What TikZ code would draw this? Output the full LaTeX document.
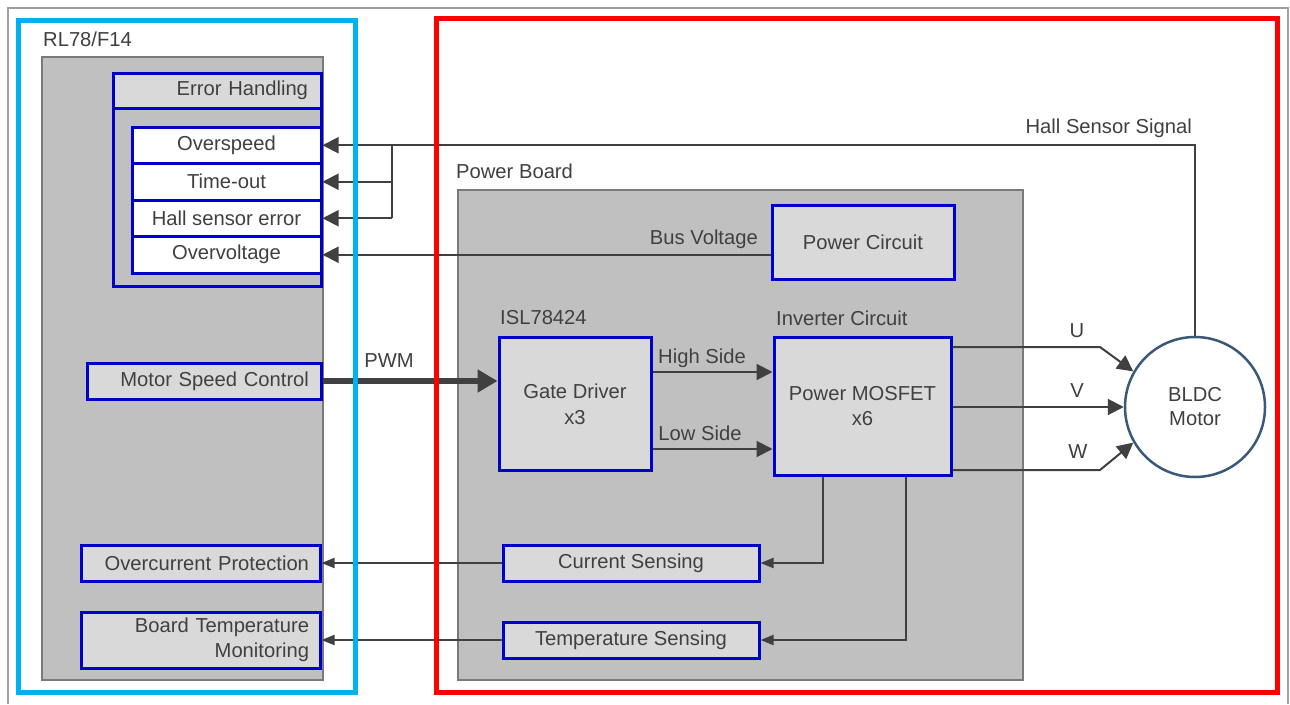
\documentclass[tikz,border=0pt]{standalone}
\usepackage{fontspec}
\setmainfont{Liberation Sans}
\usetikzlibrary{arrows.meta,calc}
\definecolor{panel}{HTML}{C0C0C0}
\definecolor{panelline}{HTML}{7A7A7A}
\definecolor{boxfill}{HTML}{D9D9D9}
\definecolor{boxblue}{HTML}{0000CC}
\definecolor{txt}{HTML}{404040}
\definecolor{wirec}{HTML}{404040}
\definecolor{cyanframe}{HTML}{00B0F0}
\definecolor{redframe}{HTML}{FF0000}
\definecolor{motorline}{HTML}{3B5878}
\definecolor{frameline}{HTML}{A0A0A0}
\begin{document}
\begin{tikzpicture}[x=1pt,y=-1pt,
  every node/.style={font=\fontsize{20.2}{23}\selectfont, text=txt},
  panelbox/.style={draw=panelline, line width=1.5pt, fill=panel},
  blk/.style={draw=boxblue, line width=3pt, fill=boxfill, inner sep=0pt, align=center},
  wbox/.style={blk, fill=white, minimum width=189pt, minimum height=36.5pt},
  arr/.style={draw=wirec, line width=2pt, -{Triangle[length=16pt,width=16pt]}},
  arrs/.style={draw=wirec, line width=2pt, -{Triangle[length=13pt,width=10pt]}},
  wireline/.style={draw=wirec, line width=2pt},
  lbl/.style={inner sep=0pt},
]
\useasboundingbox (0,0) rectangle (1290,704);
\fill[white] (0,0) rectangle (1290,704);
\draw[frameline, line width=1.5pt] (8,704) -- (8,8) -- (1288,8) -- (1288,704);

% panels
\draw[panelbox] (42,57) rectangle (323,680);
\draw[panelbox] (458,190) rectangle (1023,680);
\node[lbl, anchor=west] (rl) at (43,39) {RL78/F14};
\node[lbl, anchor=west] (pbl) at (456,171) {Power Board};

% error handling group
\node[blk, fill=panel, minimum width=208pt, minimum height=213pt] (eh) at (217,179.5) {};
\node[blk, minimum width=208pt, minimum height=35pt, text width=182pt, align=right] (ehh) at (217,90.5) {Error Handling};
\node[wbox] (ospd) at (226.5,145.25) {Overspeed};
\node[wbox] (tout) at (226.5,181.75) {Time-out};
\node[wbox] (hse) at (226.5,218.25) {Hall sensor error};
\node[wbox] (ovv) at (226.5,254.75) {Overvoltage};

% left blocks
\node[blk, minimum width=234pt, minimum height=36pt, text width=210pt, align=right] (msc) at (204,381) {Motor Speed Control};
\node[blk, minimum width=239pt, minimum height=36pt, text width=217pt, align=right] (ocp) at (200.5,563) {Overcurrent Protection};
\node[blk, minimum width=239pt, minimum height=56pt, text width=217pt, align=right, font=\fontsize{20.2}{25}\selectfont] (btm) at (200.5,640) {Board Temperature\\Monitoring};

% power board blocks
\node[blk, minimum width=182pt, minimum height=74pt] (pc) at (863,242) {Power Circuit};
\node[blk, minimum width=152pt, minimum height=133pt, font=\fontsize{20.2}{26}\selectfont] (gd) at (575,404) {Gate Driver\\x3};
\node[blk, minimum width=177pt, minimum height=138pt, font=\fontsize{20.2}{25}\selectfont] (mos) at (862.5,406) {Power MOSFET\\x6};
\node[blk, minimum width=256pt, minimum height=36pt] (cs) at (631,563) {Current Sensing};
\node[blk, minimum width=256pt, minimum height=36pt] (ts) at (631,640) {Temperature Sensing};

% motor
\node[circle, draw=motorline, line width=2.5pt, fill=white, minimum size=140pt, inner sep=0pt, align=center, font=\fontsize{20.2}{24}\selectfont] (motor) at (1195,407) {BLDC\\Motor};

% labels
\node[lbl, anchor=west] (isl) at (500,318) {ISL78424};
\node[lbl, anchor=west] (invl) at (776,318) {Inverter Circuit};
\node[lbl] (hsl) at (702,358) {High Side};
\node[lbl] (lsl) at (700,433) {Low Side};
\node[lbl, anchor=east] (bvl) at (758,239) {Bus Voltage};
\node[lbl, anchor=east] (hssl) at (1192,128) {Hall Sensor Signal};
\node[lbl] (pwml) at (389,361) {PWM};
\node[lbl] (ul) at (1077,331) {U};
\node[lbl] (vl) at (1077,391) {V};
\node[lbl] (wl) at (1078,452) {W};

% connectors
\draw[draw=wirec, line width=6pt, -{Triangle[length=20pt,width=22pt]}] (msc.east) -- (msc.east -| gd.west);
\coordinate (hs) at ($(gd.east)+(0,-32)$);
\coordinate (ls) at ($(gd.east)+(0,45)$);
\draw[arr] (hs) -- (hs -| mos.west);
\draw[arr] (ls) -- (ls -| mos.west);
\coordinate (uy) at (1100,347);
\coordinate (wy) at (1100,470);
\draw[arr] (uy -| mos.east) -- (uy) -- (motor.150);
\draw[arr] (mos.east |- motor.west) -- (motor.west);
\draw[arr] (wy -| mos.east) -- (wy) -- (motor.210);
\draw[arr] (motor.north) -- (motor.north |- ospd.east) -- (ospd.east);
\coordinate (br) at (392,145.25);
\draw[wireline] (br) -- (br |- hse.east);
\draw[arr] (br |- tout.east) -- (tout.east);
\draw[arr] (br |- hse.east) -- (hse.east);
\draw[arr] (pc.west |- ovv.east) -- (ovv.east);
\coordinate (m1) at (823,0);
\coordinate (m2) at (906,0);
\draw[arrs] (mos.south -| m1) -- (m1 |- cs.east) -- (cs.east);
\draw[arrs] (mos.south -| m2) -- (m2 |- ts.east) -- (ts.east);
\draw[arrs] (cs.west) -- (ocp.east);
\draw[arrs] (ts.west) -- (btm.east);

% frames
\draw[cyanframe, line width=5pt] (18,20) rectangle (355,692);
\draw[redframe, line width=5pt] (436,18) rectangle (1277,692);
\end{tikzpicture}
\end{document}
